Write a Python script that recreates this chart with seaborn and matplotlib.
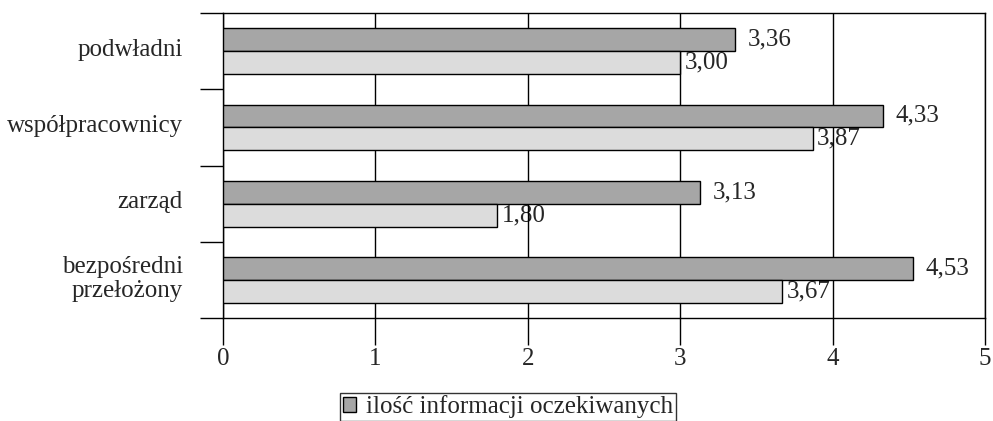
import pandas as pd
import matplotlib
matplotlib.use("Agg")
import matplotlib.pyplot as plt
import matplotlib.transforms as mtransforms
import seaborn as sns
from matplotlib.patches import Patch

# dane z wykresu
kategorie = ["podwładni", "współpracownicy", "zarząd", "bezpośredni\nprzełożony"]
oczekiwane = [3.36, 4.33, 3.13, 4.53]
otrzymywane = [3.00, 3.87, 1.80, 3.67]
seria_nazwy = ["ilość informacji oczekiwanych", "seria 2"]
kolory = ["#a6a6a6", "#dcdcdc"]

df = pd.DataFrame({
    "kategoria": kategorie * 2,
    "seria": [seria_nazwy[0]] * 4 + [seria_nazwy[1]] * 4,
    "wartosc": oczekiwane + otrzymywane,
})

sns.set_style("white")
plt.rcParams["font.family"] = ["Liberation Serif", "DejaVu Serif"]

fig = plt.figure(figsize=(9.93, 4.21), dpi=100)
ax = fig.add_axes([223 / 993, 1 - 318 / 421, (985 - 223) / 993, (318 - 13) / 421])

sns.barplot(data=df, y="kategoria", x="wartosc", hue="seria", order=kategorie,
            hue_order=seria_nazwy, palette=kolory, orient="h", width=0.6,
            edgecolor="black", linewidth=1, legend=False, ax=ax, zorder=3)

ax.set_xlim(0, 5)
ax.set_ylim(3.5, -0.5)
ax.set_xlabel("")
ax.set_ylabel("")

# siatka pionowa (nad etykietami, pod słupkami)
ax.set_xticks(range(6))
ax.set_axisbelow(False)
ax.xaxis.grid(True, color="black", linewidth=1)
ax.tick_params(axis="x", direction="out", length=19.5, width=1, color="black",
               labelsize=18, pad=2, bottom=True)

# kategorie: etykiety bez kresek, kreski na granicach
ax.set_yticks(range(4))
ax.set_yticklabels(kategorie, fontsize=18, linespacing=1.1)
ax.tick_params(axis="y", which="major", length=0, pad=29)
ax.set_yticks([-0.5, 0.5, 1.5, 2.5, 3.5], minor=True)
ax.tick_params(axis="y", which="minor", direction="out", length=16.5, width=1,
               color="black", left=True)
przesun = mtransforms.ScaledTranslation(0, 4 / 100, fig.dpi_scale_trans)
for lab in ax.get_yticklabels():
    lab.set_transform(lab.get_transform() + przesun)

for s in ["top", "bottom", "left", "right"]:
    ax.spines[s].set_visible(True)
    ax.spines[s].set_color("black")
    ax.spines[s].set_linewidth(1)

# etykiety wartości
for cont, wart, pad in zip(ax.containers, [oczekiwane, otrzymywane], [9, 3]):
    teksty = ax.bar_label(cont, labels=[f"{v:.2f}".replace(".", ",") for v in wart],
                          padding=pad, fontsize=18)
    for t in teksty:
        t.set_zorder(2)

uchwyt = [Patch(facecolor=kolory[0], edgecolor="black", linewidth=1)]
fig.legend(handles=uchwyt, labels=[seria_nazwy[0]], loc="upper left",
           bbox_to_anchor=(340 / 993, 1 - 393 / 421), fontsize=18,
           frameon=True, fancybox=False, edgecolor="black", handlelength=0.55,
           handleheight=0.55, handletextpad=0.4, borderpad=0.1, borderaxespad=0)

fig.savefig("out.png", dpi=100)
